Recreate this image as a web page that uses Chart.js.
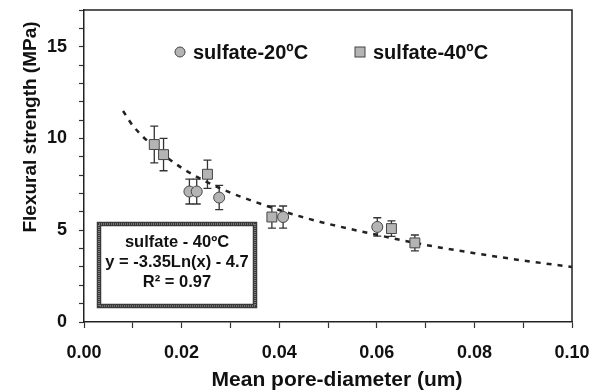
<!DOCTYPE html>
<html>
<head>
<meta charset="utf-8">
<script src="https://cdn.jsdelivr.net/npm/chart.js@4/dist/chart.umd.min.js"></script>
<style>
  html, body { margin: 0; padding: 0; background: #fff; }
  #wrap { width: 602px; height: 391px; }
</style>
</head>
<body>
<div id="wrap"><canvas id="chart" width="602" height="391"></canvas></div>
<script>
// mean pore diameter (um), flexural strength (MPa), error bar half-heights
var x20 = [0.0216, 0.0231, 0.0277, 0.0408, 0.0601];
var y20 = [7.11, 7.11, 6.78, 5.72, 5.18];
var err20 = [0.68, 0.68, 0.66, 0.6, 0.5];

var x40 = [0.0144, 0.0163, 0.0253, 0.0385, 0.0630, 0.0678];
var y40 = [9.67, 9.12, 8.05, 5.72, 5.09, 4.31];
var err40 = [1.0, 0.88, 0.77, 0.6, 0.42, 0.43];

// dashed trend curve
var trendX = [0.008, 0.01, 0.015, 0.02, 0.025, 0.03, 0.035, 0.04, 0.045, 0.05, 0.06, 0.07, 0.08, 0.09, 0.10];
var trendY = [11.5, 10.7, 9.4, 8.4, 7.65, 7.05, 6.55, 6.1, 5.7, 5.35, 4.75, 4.2, 3.75, 3.35, 3.0];

var xTicks = ['0.00', '0.02', '0.04', '0.06', '0.08', '0.10'];
var yTicks = ['0', '5', '10', '15'];

var seriesNames = ['sulfate-20ºC', 'sulfate-40ºC'];
var boxLines = ['sulfate - 40ºC', 'y = -3.35Ln(x) - 4.7', 'R² = 0.97'];

var FONT = "'Liberation Sans', Arial, sans-serif";
var INK = '#111';

function pts(xs, ys) {
    return xs.map(function (x, i) { return {x: x, y: ys[i]}; });
}

var errorBars = {
    id: 'errorBars',
    beforeDatasetsDraw: function (chart) {
        var ctx = chart.ctx, sx = chart.scales.x, sy = chart.scales.y;
        ctx.save();
        ctx.strokeStyle = '#333';
        ctx.lineWidth = 1.3;
        [[x20, y20, err20], [x40, y40, err40]].forEach(function (s) {
            s[0].forEach(function (x, i) {
                var px = sx.getPixelForValue(x);
                var top = sy.getPixelForValue(s[1][i] + s[2][i]);
                var bot = sy.getPixelForValue(s[1][i] - s[2][i]);
                ctx.beginPath();
                ctx.moveTo(px, top); ctx.lineTo(px, bot);
                ctx.moveTo(px - 4, top); ctx.lineTo(px + 4, top);
                ctx.moveTo(px - 4, bot); ctx.lineTo(px + 4, bot);
                ctx.stroke();
            });
        });
        ctx.restore();
    }
};

var extras = {
    id: 'extras',
    afterDraw: function (chart) {
        var ctx = chart.ctx, a = chart.chartArea;
        ctx.save();

        // frame top and right
        ctx.strokeStyle = '#222';
        ctx.lineWidth = 1.5;
        ctx.beginPath();
        ctx.moveTo(a.left, a.top);
        ctx.lineTo(a.right, a.top);
        ctx.lineTo(a.right, a.bottom);
        ctx.stroke();

        // legend inside the plot
        ctx.font = 'bold 20px ' + FONT;
        ctx.textBaseline = 'middle';
        ctx.textAlign = 'left';
        ctx.lineWidth = 1;
        ctx.fillStyle = '#b4b4b4';
        ctx.strokeStyle = '#444';
        ctx.beginPath();
        ctx.arc(180, 52, 5, 0, Math.PI * 2);
        ctx.fill(); ctx.stroke();
        ctx.fillRect(355, 47, 10, 10);
        ctx.strokeRect(355, 47, 10, 10);
        ctx.fillStyle = INK;
        ctx.fillText(seriesNames[0], 193, 53);
        ctx.fillText(seriesNames[1], 373, 53);

        // equation box
        ctx.fillStyle = '#fff';
        ctx.fillRect(97, 222, 160, 86);
        ctx.strokeStyle = '#3a3a3a';
        ctx.lineWidth = 4.5;
        ctx.strokeRect(99, 224, 156, 82);
        ctx.strokeStyle = '#aaa';
        ctx.lineWidth = 1.2;
        ctx.setLineDash([1, 1]);
        ctx.strokeRect(99, 224, 156, 82);
        ctx.setLineDash([]);
        ctx.fillStyle = INK;
        ctx.textAlign = 'center';
        ctx.font = 'bold 16.5px ' + FONT;
        boxLines.forEach(function (t, i) {
            ctx.fillText(t, 177, 242 + i * 20);
        });

        // axis titles
        ctx.font = 'bold 21px ' + FONT;
        ctx.fillText('Mean pore-diameter (um)', 337, 380);
        ctx.translate(31, 127);
        ctx.rotate(-Math.PI / 2);
        ctx.font = 'bold 19px ' + FONT;
        ctx.fillText('Flexural strength (MPa)', 0, 0);
        ctx.restore();
    }
};

var tickFont = {family: FONT, size: 18, weight: 'bold'};

new Chart(document.getElementById('chart'), {
    type: 'scatter',
    data: {
        datasets: [{
            label: seriesNames[0],
            data: pts(x20, y20),
            pointStyle: 'circle',
            pointRadius: 5.5,
            backgroundColor: '#b4b4b4',
            borderColor: '#444',
            borderWidth: 1,
            order: 1
        }, {
            label: seriesNames[1],
            data: pts(x40, y40),
            pointStyle: 'rect',
            pointRadius: 7,
            backgroundColor: '#b4b4b4',
            borderColor: '#444',
            borderWidth: 1,
            order: 1
        }, {
            label: 'trend',
            data: pts(trendX, trendY),
            showLine: true,
            pointRadius: 0,
            borderColor: '#222',
            borderWidth: 2.5,
            borderDash: [5, 6],
            cubicInterpolationMode: 'monotone',
            order: 3
        }]
    },
    options: {
        responsive: false,
        animation: false,
        layout: {padding: {top: 10, right: 30, left: 0, bottom: 0}},
        plugins: {
            legend: {display: false},
            tooltip: {enabled: false}
        },
        scales: {
            x: {
                type: 'linear',
                min: 0,
                max: 0.1,
                afterFit: function (s) {
                    s.height = 69;
                    s.paddingLeft = 0;
                    s.paddingRight = 0;
                },
                border: {display: true, color: '#222', width: 1.5},
                grid: {drawOnChartArea: false, drawTicks: true, tickLength: 6, tickColor: '#333', tickWidth: 1.2},
                ticks: {
                    stepSize: 0.01,
                    padding: 14,
                    maxRotation: 0,
                    autoSkip: false,
                    color: INK,
                    font: tickFont,
                    callback: function (value) {
                        var t = Number(value).toFixed(2);
                        return xTicks.indexOf(t) >= 0 ? t : '';
                    }
                }
            },
            y: {
                type: 'linear',
                min: 0,
                max: 17,
                afterFit: function (s) {
                    s.width = 84;
                    s.paddingTop = 0;
                    s.paddingBottom = 0;
                },
                border: {display: true, color: '#222', width: 1.5},
                grid: {drawOnChartArea: false, drawTicks: true, tickLength: 5, tickColor: '#333', tickWidth: 1.2},
                ticks: {
                    stepSize: 1,
                    padding: 12,
                    autoSkip: false,
                    color: INK,
                    font: tickFont,
                    callback: function (value) {
                        var t = String(Math.round(value));
                        return yTicks.indexOf(t) >= 0 ? t : '';
                    }
                }
            }
        }
    },
    plugins: [errorBars, extras]
});
</script>
</body>
</html>
